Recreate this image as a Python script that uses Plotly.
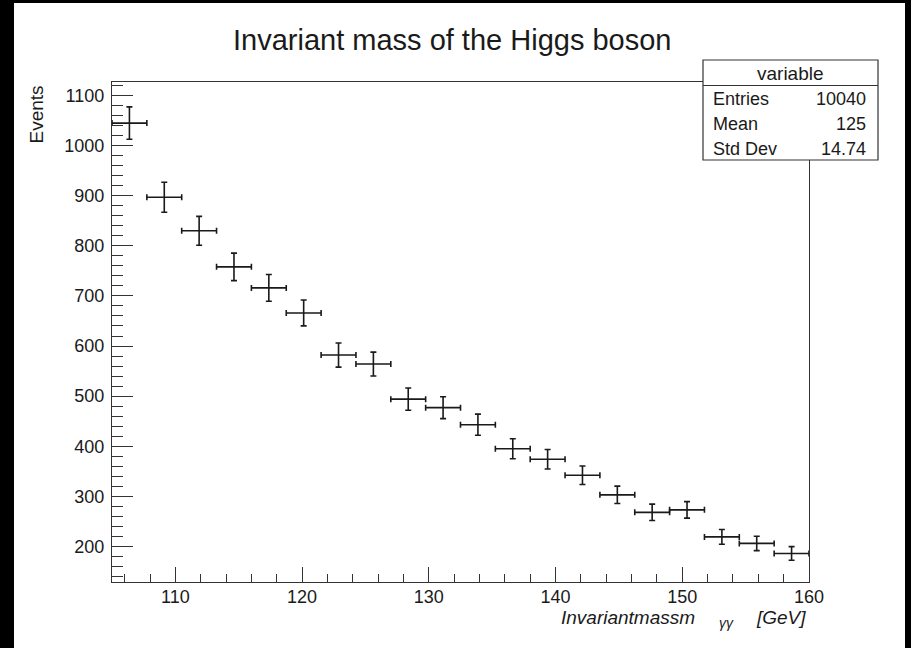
import numpy as np
import plotly.graph_objects as go

# ---- data ----
bin_low = 105.0
bin_high = 160.0
n_bins = 20
counts = [1045, 897, 830, 758, 716, 666, 582, 564, 494, 477,
          443, 395, 374, 342, 303, 268, 273, 219, 206, 186]
y_ticks = [200, 300, 400, 500, 600, 700, 800, 900, 1000, 1100]
x_ticks = [110, 120, 130, 140, 150, 160]
stats_labels = ["Entries", "Mean", "Std Dev"]
stats_values = ["10040", "125", "14.74"]
title_text = "Invariant mass of the Higgs boson"

bw = (bin_high - bin_low) / n_bins
centers = [bin_low + bw * (i + 0.5) for i in range(n_bins)]
errs = [float(np.sqrt(c)) for c in counts]

W, H = 911, 648
L, R, T, B = 112, 809, 82, 582
pw, ph = R - L, B - T


def xp(px):
    return (px - L) / pw


def yp(py):
    return (B - py) / ph


FONT = "Liberation Sans, Arial, Helvetica, sans-serif"
INK = "#1a1a1a"

fig = go.Figure()
fig.add_trace(go.Scatter(
    x=centers, y=counts, mode="markers",
    marker=dict(size=1, color=INK),
    error_y=dict(type="data", array=errs, visible=True, color=INK,
                 thickness=1.6, width=3),
    error_x=dict(type="constant", value=bw / 2, visible=True, color=INK,
                 thickness=1.6, width=3),
    showlegend=False, hoverinfo="x+y",
))

shapes = [
    # white page inside black border
    dict(type="rect", xref="paper", yref="paper", layer="below",
         x0=xp(14), x1=xp(905), y0=yp(650), y1=yp(3),
         fillcolor="white", line=dict(width=0)),
    # stats box
    dict(type="rect", xref="paper", yref="paper", layer="above",
         x0=xp(703), x1=xp(878), y0=yp(160), y1=yp(60),
         fillcolor="white", line=dict(color="#333", width=1.2)),
    dict(type="line", xref="paper", yref="paper", layer="above",
         x0=xp(703), x1=xp(878), y0=yp(85.5), y1=yp(85.5),
         line=dict(color="#333", width=1.2)),
]

annotations = [
    dict(text=title_text, xref="paper", yref="paper", x=xp(452), y=yp(40),
         xanchor="center", yanchor="middle", showarrow=False,
         font=dict(family=FONT, size=29, color=INK)),
    dict(text="Events", xref="paper", yref="paper", x=xp(35.5), y=yp(84),
         xanchor="center", yanchor="top", textangle=-90, showarrow=False,
         font=dict(family=FONT, size=19, color=INK)),
    dict(text="<i>Invariantmassm</i>", xref="paper", yref="paper",
         x=xp(559), y=yp(617.5), xanchor="left", yanchor="middle",
         showarrow=False, font=dict(family=FONT, size=19, color=INK)),
    dict(text="<i>γγ</i>", xref="paper", yref="paper",
         x=xp(717), y=yp(623), xanchor="left", yanchor="middle",
         showarrow=False, font=dict(family=FONT, size=14, color=INK)),
    dict(text="<i>[GeV]</i>", xref="paper", yref="paper",
         x=xp(808), y=yp(617.5), xanchor="right", yanchor="middle",
         showarrow=False, font=dict(family=FONT, size=19, color=INK)),
    dict(text="variable", xref="paper", yref="paper",
         x=xp(790.5), y=yp(73), xanchor="center", yanchor="middle",
         showarrow=False, font=dict(family=FONT, size=19, color=INK)),
]
row_y = [99, 124, 148.5]
for lab, val, ry in zip(stats_labels, stats_values, row_y):
    annotations.append(dict(text=lab, xref="paper", yref="paper",
                            x=xp(711), y=yp(ry), xanchor="left",
                            yanchor="middle", showarrow=False,
                            font=dict(family=FONT, size=18, color=INK)))
    annotations.append(dict(text=val, xref="paper", yref="paper",
                            x=xp(868), y=yp(ry), xanchor="right",
                            yanchor="middle", showarrow=False,
                            font=dict(family=FONT, size=18, color=INK)))

fig.update_layout(
    width=W, height=H,
    margin=dict(l=L, r=W - R, t=T, b=H - B, pad=0),
    paper_bgcolor="black", plot_bgcolor="white",
    shapes=shapes, annotations=annotations,
    font=dict(family=FONT, color=INK),
    xaxis=dict(range=[bin_low, bin_high], tickvals=x_ticks,
               ticktext=[str(v) for v in x_ticks],
               ticks="inside", ticklen=15, tickwidth=1.2, tickcolor="#333",
               ticklabelstandoff=-2,
               minor=dict(dtick=2, tick0=0, ticks="inside", ticklen=8,
                          tickwidth=1.2, tickcolor="#333", showgrid=False),
               showline=True, linecolor="#333", linewidth=1.2, mirror=True,
               showgrid=False, zeroline=False,
               tickfont=dict(family=FONT, size=18, color=INK)),
    yaxis=dict(range=[129, 1127], tickvals=y_ticks,
               ticktext=[str(v) for v in y_ticks],
               ticks="inside", ticklen=21, tickwidth=1.2, tickcolor="#333",
               ticklabelstandoff=3,
               minor=dict(dtick=20, tick0=0, ticks="inside", ticklen=11,
                          tickwidth=1.2, tickcolor="#333", showgrid=False),
               showline=True, linecolor="#333", linewidth=1.2, mirror=True,
               showgrid=False, zeroline=False,
               tickfont=dict(family=FONT, size=18, color=INK)),
)

fig.write_html("out.html")
